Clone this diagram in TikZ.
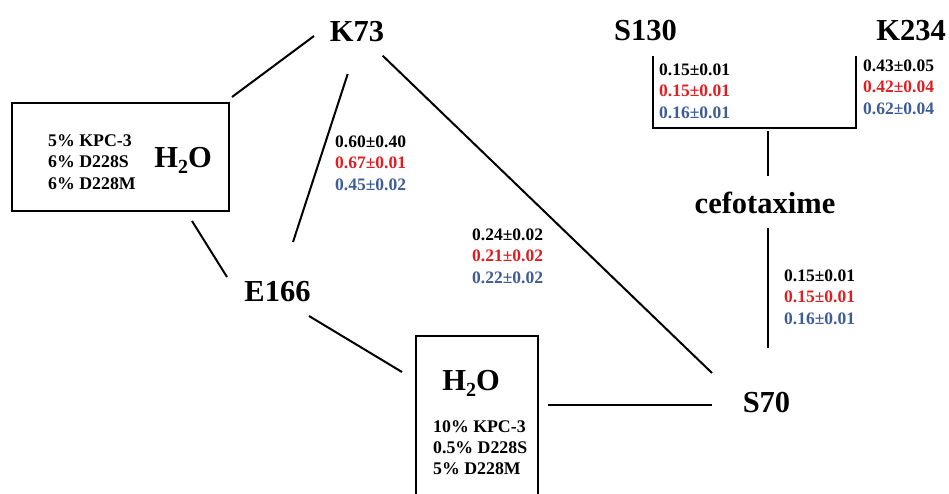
\documentclass[tikz,border=0pt]{standalone}
\usepackage{fontspec}
\setmainfont{Liberation Serif}
\usetikzlibrary{calc}
\definecolor{valred}{RGB}{222,30,34}
\definecolor{valblue}{RGB}{62,92,150}

% three stacked values (black / red / blue), left-aligned at (#2,#3) on the first baseline
\newcommand\valtrio[6]{%
  \node[val] (#1a) at (#2,#3) {#4};
  \node[val,text=valred] (#1b) at (#2,#3+21.5) {#5};
  \node[val,text=valblue] (#1c) at (#2,#3+43) {#6};
}
\newcommand\water{H\raisebox{-6pt}{\fontsize{20}{20}\selectfont 2}O}

\begin{document}
\begin{tikzpicture}[x=1pt,y=-1pt,
  big/.style={font=\fontsize{30.5}{36}\selectfont\bfseries, inner sep=0pt, anchor=base},
  val/.style={font=\fontsize{17.5}{21}\selectfont\bfseries, inner sep=0pt, anchor=base west},
  boxtxt/.style={font=\fontsize{17.8}{21}\selectfont\bfseries, inner sep=0pt, anchor=base west},
  conn/.style={line width=2pt},
  solvbox/.style={draw, line width=2pt, inner sep=0pt, outer sep=0pt}]
\useasboundingbox (0,0) rectangle (949,493);

% residue labels
\node[big] (K73)  at (357,41)   {K73};
\node[big] (S130) at (645.5,40) {S130};
\node[big] (K234) at (911,40)   {K234};
\node[big] (E166) at (277.5,301) {E166};
\node[big] (cef)  at (765,213)  {cefotaxime};
\node[big] (S70)  at (766.5,412) {S70};

% water boxes
\node[solvbox, minimum width=217pt, minimum height=108pt] (box1) at (120.5,157) {};
\node[big] (w1) at (183,167) {\water};
\node[boxtxt] (b1a) at (48,146)   {5\% KPC-3};
\node[boxtxt] (b1b) at (48,167.5) {6\% D228S};
\node[boxtxt] (b1c) at (48,189)   {6\% D228M};

\node[solvbox, minimum width=122pt, minimum height=169pt] (box2) at (477,420.5) {};
\node[big] (w2) at (471,390) {\water};
\node[boxtxt] (b2a) at (433,432)   {10\% KPC-3};
\node[boxtxt] (b2b) at (433,453)   {0.5\% D228S};
\node[boxtxt] (b2c) at (433,474)   {5\% D228M};

% distances
\valtrio{dA}{335}{147}{0.60±0.40}{0.67±0.01}{0.45±0.02}
\valtrio{dB}{472}{240}{0.24±0.02}{0.21±0.02}{0.22±0.02}
\valtrio{dC}{784}{281}{0.15±0.01}{0.15±0.01}{0.16±0.01}
\valtrio{dD}{659}{75}{0.15±0.01}{0.15±0.01}{0.16±0.01}
\valtrio{dE}{863}{71}{0.43±0.05}{0.42±0.04}{0.62±0.04}

% connectors
\draw[conn] ($(box1.north east)+(3,-6)$) -- ($(K73.base)+(-43,-5)$);
\draw[conn] ($(box1.south)+(71.5,10)$) -- ($(E166.base)+(-50.5,-24)$);
\draw[conn] ($(E166.base)+(15.5,-59)$) -- ($(K73.base)+(-9.3,33)$);
\draw[conn] ($(K73.base)+(25.7,14.7)$) -- ($(S70.base)+(-54.5,-39)$);
\draw[conn] ($(E166.base)+(31.5,15)$) -- ($(box2.north west)+(-14,36)$);
\draw[conn] ($(box2.north east)+(10,69)$) -- ($(S70.base)+(-54.5,-7)$);

% bracket joining S130 and K234 to cefotaxime
\draw[conn] (653,56) -- (653,128) -- (856,128) -- (856,56);
\coordinate (brk) at (768,131);
\draw[conn] (brk) -- ($(cef.base)+(3,-37)$);
\draw[conn] ($(cef.base)+(3,15)$) -- ($(S70.base)+(1.5,-64)$);
\end{tikzpicture}
\end{document}
